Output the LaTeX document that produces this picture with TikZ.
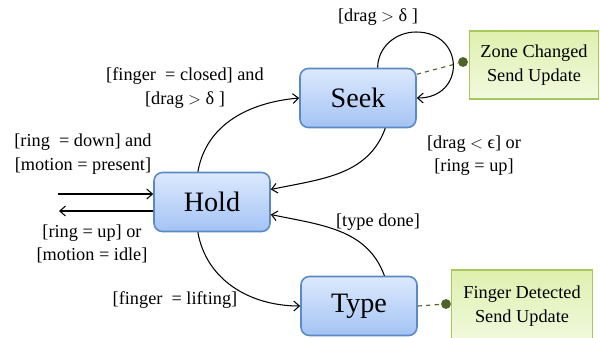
\documentclass[tikz,border=0pt]{standalone}
\usepackage{fontspec}
\setmainfont{Liberation Serif}
\usepackage{tikz}
\usetikzlibrary{positioning, arrows.meta, calc}
\definecolor{stateline}{HTML}{5A8AC6}
\definecolor{statetop}{HTML}{DCE9FD}
\definecolor{statebot}{HTML}{A4C3F4}
\definecolor{noteline}{HTML}{A6C85C}
\definecolor{notetop}{HTML}{DFF0AE}
\definecolor{notebot}{HTML}{F1F9DE}
\definecolor{olive}{HTML}{4F6228}
\tikzset{
    state/.style = {rectangle, rounded corners=6pt, draw=stateline, line width=1.1pt,
                    top color=statetop, bottom color=statebot,
                    minimum width=2.9cm, minimum height=1.475cm,
                    font=\fontsize{20}{24}\selectfont},
    note/.style = {rectangle, draw=noteline, line width=1.1pt,
                   top color=notetop, bottom color=notebot, align=center,
                   font=\fontsize{13}{16.5}\selectfont},
    dot/.style = {circle, fill=olive, inner sep=0pt, minimum size=7pt},
    link/.style = {olive, dashed, thick},
    trans/.style = {-{Straight Barb[length=4pt,width=7pt]}, line width=0.75pt},
    cond/.style = {align=center, font=\fontsize{13}{16.5}\selectfont},
}

\begin{document}
\begin{tikzpicture}[x=0.025cm, y=-0.025cm]
        \useasboundingbox (0,0) rectangle (600,337);
        % states
        \node[state] (hold) at (212,202) {Hold};
        \node[state] (seek) at (358,98) {Seek};
        \node[state] (type) at (359,306) {Type};
        % notes
        \node[note, minimum width=3.225cm, minimum height=1.7cm] (zone) at (534,65)
            {Zone Changed\\Send Update};
        \node[note, minimum width=3.525cm, minimum height=1.8cm] (finger) at (522,306)
            {Finger Detected\\Send Update};
        \node[dot] (zonedot) at (463,62) {};
        \node[dot] (fingerdot) at (446,304) {};
        \draw[link] (seek.22) -- (zonedot);
        \draw[link] (type.east) -- (fingerdot);
        % outside transitions
        \coordinate (enter) at (58,194);
        \coordinate (leave) at (59,211);
        \draw[trans] (enter) -- (enter -| hold.west);
        \draw[trans] (leave -| hold.west) -- (leave);
        % transitions
        \draw[trans] (hold.115) to[out=80, in=185] (seek.west);
        \draw[trans] (seek.-48) to[out=250, in=12] (hold.12);
        \draw[trans] (hold.-115) to[out=-80, in=180] (type.west);
        \draw[trans] (type.50) to[out=110, in=-12] (hold.-12);
        % self loop on seek
        \coordinate (looptop) at (416,32);
        \draw[trans] (seek.57) to[out=90, in=180] (looptop)
            to[out=0, in=0, looseness=1.9] (seek.east);
        % conditions
        \node[cond] (loopcond) at (378,17) {[drag $>$ δ ]};
        \node[cond] (closecond) at (185,88) {[finger\ \ = closed] and\\ {[drag $>$ δ ]}};
        \node[cond] (downcond) at (83,154) {[ring\ \ = down] and\\ {[motion = present]}};
        \node[cond] (upcond) at (92,244) {[ring = up] or\\ {[motion = idle]}};
        \node[cond] (releasecond) at (474,156) {[drag $<$ ϵ] or\\ {[ring = up]}};
        \node[cond] (donecond) at (378,222) {[type done]};
        \node[cond] (liftcond) at (175,300) {[finger\ \ = lifting]};
      \end{tikzpicture}
\end{document}
